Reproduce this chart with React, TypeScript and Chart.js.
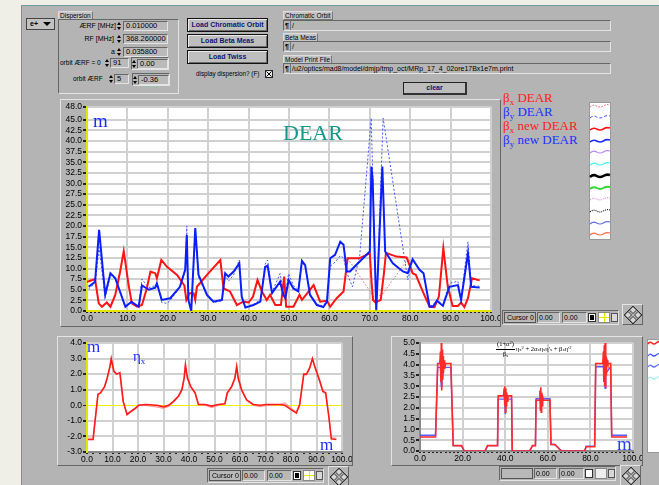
import React, { useEffect, useRef } from 'react';
import { Chart, registerables } from 'chart.js';

Chart.register(...registerables);

const SANS = '"Liberation Sans", Arial, sans-serif';
const SERIF = '"Liberation Serif", "Times New Roman", serif';
const GRAY = '#b4b4b4';

// ---------------- DATA ----------------
// Main graph: beta functions [s (m), beta (m)]
const BX_NEW: [number, number][] = [
  [0, 6.9], [2, 7.5], [2.9, 1.8], [3.7, 1.0], [4.9, 2.0], [5.8, 1.0], [7, 3.8], [8.2, 9.3], [9.1, 14.1], [10.3, 6.1],
  [11.1, 1.8], [12.4, 1.0], [13.6, 1.4], [14.8, 5.3], [15.7, 9.3], [16.9, 8.9], [17.3, 7.7], [18.4, 12.0], [19.8, 10.4],
  [22.3, 8.5], [24.1, 6.0], [24.6, 2.6], [25.4, 4.2], [26.4, 4.2], [26.8, 2.6], [27.2, 5.7], [29.7, 8.5], [33, 12.0],
  [33.8, 5.3], [35.4, 4.6], [37.1, 1.4], [38.7, 2.2], [40, 2.0], [41.1, 3.4], [42.2, 7.3], [43.3, 4.6], [44.5, 2.6],
  [45.3, 3.8], [46.6, 1.4], [48, 1.4], [48.8, 8.1], [49.3, 1.0], [51.1, 1.0], [52.6, 3.8], [53.2, 2.6], [54.2, 3.8],
  [56.1, 6.1], [57.7, 2.2], [59.4, 2.4], [60.2, 1.0], [61.8, 3.0], [63.5, 4.6], [64.5, 12.4], [67.4, 12.4], [70, 13.6],
  [70.4, 7.3], [70.8, 2.6], [71.4, 2.0], [72.7, 2.6], [73.5, 8.9], [74, 13.7], [76.6, 12.8], [79.1, 12.6], [80.6, 8.9],
  [81.4, 8.5], [83.1, 4.6], [84.8, 1.0], [86, 0.9], [87.1, 3.4], [88.2, 14.8], [89.3, 5.7], [90.5, 1.2], [91.8, 1.2],
  [92.6, 2.0], [93.4, 0.9], [94.3, 3.0], [95.3, 7.7], [97.2, 7.2],
];
const BY_NEW: [number, number][] = [
  [0.4, 5.7], [2, 6.9], [3, 19.1], [4.5, 3.9], [5.8, 8.9], [7, 7.7], [9.5, 1.0], [11, 2.2], [12.8, 1.0], [13.6, 6.0],
  [15.3, 5.0], [16.9, 5.5], [17.3, 6.5], [18.5, 2.6], [20.6, 3.0], [23, 5.7], [24.3, 9.7], [24.7, 17.9], [25.1, 2.6],
  [25.8, 0], [26.8, 19.5], [27.6, 8.5], [29.7, 3.8], [31.3, 2.2], [33.4, 2.6], [34.2, 8.9], [35, 8.1], [36.3, 9.3],
  [37.7, 11.2], [38.3, 3.4], [39.2, 0.8], [41.2, 1.4], [42.9, 2.2], [44.1, 10.4], [44.7, 10.7], [45.8, 4.2], [47.8, 6.9],
  [48.6, 3.8], [49.1, 3.0], [49.9, 7.3], [51.1, 5.3], [52.3, 4.6], [53.2, 11.8], [54, 10.8], [55.2, 3.8], [56.9, 1.4],
  [58.5, 0.9], [59.4, 2.2], [60.2, 12.4], [61.4, 13.2], [62.7, 16.3], [63.5, 15.6], [64.3, 9.3], [65.1, 9.3], [66.2, 10.4],
  [70, 14.0], [70.4, 34.0], [70.7, 31.0], [71.6, 0.2], [73.1, 34.0], [73.8, 14.0], [75.7, 11.2], [78.2, 9.3], [79.4, 8.9],
  [80.6, 12.2], [82.3, 9.7], [83.3, 8.9], [84.8, 1.0], [85.6, 1.0], [86.6, 2.4], [88.1, 1.2], [89.7, 5.7], [91.8, 6.1],
  [92.6, 2.6], [94.3, 13.6], [95.1, 5.7], [97.2, 5.5],
];
const BX_OLD: [number, number][] = [
  [0, 6.7], [2, 7.3], [2.9, 1.8], [3.7, 1.1], [4.9, 2.1], [5.8, 1.1], [7, 3.8], [8.2, 9.0], [9.1, 13.6], [10.3, 6.0],
  [11.1, 1.8], [12.4, 1.1], [13.6, 1.5], [14.8, 5.3], [15.7, 9.0], [16.9, 8.8], [17.3, 7.7], [18.4, 11.8], [19.8, 10.4],
  [22.3, 8.5], [24.1, 6.0], [24.6, 2.6], [25.4, 4.2], [26.4, 4.2], [26.8, 2.6], [27.2, 5.7], [29.7, 8.5], [33, 12.2],
  [33.8, 5.3], [35.4, 4.6], [37.1, 1.5], [38.7, 2.2], [40, 2.0], [41.1, 3.4], [42.2, 7.2], [43.3, 4.6], [44.5, 2.6],
  [45.3, 3.8], [46.6, 1.5], [48, 1.5], [48.8, 8.0], [49.3, 1.1], [51.1, 1.1], [52.6, 3.8], [53.2, 2.6], [54.2, 3.8],
  [56.1, 6.0], [57.7, 2.2], [59.4, 2.4], [60.2, 1.1], [61.8, 3.0], [63.5, 4.6], [64.5, 12.4], [71, 3.3], [73, 3.8],
  [79.6, 12.4], [80.6, 8.9], [81.4, 8.5], [83.1, 4.6], [84.8, 1.1], [86, 1.0], [87.1, 3.4], [88.2, 14.5], [89.3, 5.7],
  [90.5, 1.3], [91.8, 1.3], [92.6, 2.0], [93.4, 1.0], [94.3, 3.0], [95.3, 7.5], [97.2, 7.2],
];
const BY_OLD: [number, number][] = [
  [0.4, 5.2], [2, 6.5], [3, 15.0], [4.5, 3.0], [5.8, 8.5], [7, 7.5], [9.5, 1.2], [11, 2.0], [12.8, 1.2], [13.6, 7.5],
  [15.3, 5.5], [16.9, 6.0], [17.3, 6.5], [18.5, 2.0], [19.8, 1.8], [20.6, 2.5], [23, 5.5], [24.3, 9.5], [24.7, 20.0],
  [25.1, 2.6], [25.8, 0.3], [26.8, 19.0], [27.6, 8.0], [29.7, 3.5], [31.3, 2.0], [33.4, 2.4], [34.2, 8.5], [35, 7.0],
  [36.3, 8.5], [37.7, 12.0], [38.3, 3.0], [39.2, 1.0], [41.2, 1.6], [42.9, 2.6], [44.1, 11.0], [44.7, 12.0], [45.8, 4.5],
  [47.8, 8.8], [48.6, 4.5], [49.1, 3.5], [49.9, 8.8], [51.1, 6.0], [52.3, 5.0], [53.2, 11.5], [54, 10.5], [55.2, 4.0],
  [56.9, 1.6], [58.5, 1.2], [59.4, 2.5], [60.2, 10.5], [61.4, 11.5], [62.7, 13.0], [63.5, 12.5], [64.3, 9.0], [65.7, 5.7],
  [67.5, 13.0], [70.35, 45.4], [71.6, 0.5], [73.3, 45.4], [79.4, 7.3], [80.6, 12.0], [82.3, 9.8], [83.3, 9.0], [84.8, 1.3],
  [85.6, 1.3], [86.6, 2.6], [88.1, 1.5], [89.7, 6.5], [91.8, 7.0], [92.6, 3.0], [94.3, 16.3], [95.1, 6.0], [97.2, 5.8],
];
const MAIN_Y_TICKS = [0, 2.5, 5, 7.5, 10, 12.5, 15, 17.5, 20, 22.5, 25, 27.5, 30, 32.5, 35, 37.5, 40, 42.5, 45, 48];

// Bottom-left graph: horizontal dispersion eta_x [s, m]
const ETA_X: [number, number][] = [
  [0.4, -2.2], [2.4, -2.2], [3, -1.25], [4.3, 0.7], [5.3, 0.8], [6.9, 1.2], [7.9, 1.75], [9, 2.5], [9.5, 3.0], [10.5, 2.2],
  [11.6, 2.0], [12.9, 2.1], [14.2, 0.25], [15.7, -0.6], [17.7, -0.35], [19, -0.2], [20.3, 0], [22.9, 0.05], [27.4, 0],
  [30, -0.1], [32, 0], [33.9, 0.25], [35.9, 0.6], [37.2, 1.0], [38.1, 1.75], [38.6, 2.6], [39.4, 1.75], [40.7, 1.2],
  [42.4, 0.8], [43.7, 0.05], [46.3, 0.05], [48.9, -0.05], [51.5, 0.05], [54.1, 0.1], [55, 0.8], [56.7, 1.2], [58, 1.75],
  [58.7, 2.5], [59.3, 1.75], [60.6, 1.0], [62.6, 0.35], [65.2, 0.05], [67.8, 0], [70.4, 0.05], [75.6, 0.05], [77.6, 0],
  [80.2, -0.3], [82.1, -0.5], [83.4, 0.05], [85, 2.0], [86.1, 2.0], [87.3, 2.4], [88.4, 3.0], [89.3, 2.5], [91.2, 1.6],
  [92.5, 0.9], [93.6, 0.8], [94.9, -0.8], [95.8, -2.15], [97.8, -2.2],
];
const ETA_X_MEAS: [number, number][] = [
  [0.4, -2.1], [2.4, -2.1], [3, -1.2], [4.3, 0.75], [5.3, 0.8], [6.9, 1.2], [7.9, 1.7], [9, 2.45], [9.5, 2.95], [10.5, 2.2],
  [11.6, 2.0], [12.9, 2.05], [14.2, 0.2], [15.7, -0.55], [17.7, -0.3], [19, -0.15], [20.3, 0], [22.9, 0], [27.4, -0.1],
  [30, -0.2], [32, -0.08], [33.9, 0.2], [35.9, 0.55], [37.2, 0.95], [38.1, 1.7], [38.6, 2.5], [39.4, 1.7], [40.7, 1.15],
  [42.4, 0.75], [43.7, 0.05], [46.3, 0.0], [48.9, -0.15], [51.5, 0.0], [54.1, 0.1], [55, 0.75], [56.7, 1.15], [58, 1.7],
  [58.7, 2.4], [59.3, 1.7], [60.6, 0.95], [62.6, 0.3], [65.2, 0.0], [67.8, -0.08], [70.4, 0.0], [75.6, 0.05], [77.6, 0.15],
  [80.2, -0.2], [82.1, -0.45], [83.4, 0.05], [85, 1.95], [86.1, 1.95], [87.3, 2.35], [88.4, 2.95], [89.3, 2.45], [91.2, 1.55],
  [92.5, 0.85], [93.6, 0.75], [94.9, -0.8], [95.8, -2.1], [97.8, -2.1],
];

// Bottom-right graph: dispersion invariant H [s, m]
const H_RED: [number, number][] = [
  [0, 0.65], [7.3, 0.65], [8.3, 4.05], [9.3, 4.05], [9.6, 4.6], [9.8, 3.2], [10, 5.0], [10.2, 2.8], [10.4, 4.7], [10.6, 3.3],
  [10.8, 4.4], [11, 3.6], [11.3, 4.2], [11.6, 3.8], [12, 4.05], [14.5, 4.05], [15.6, 0.25], [19.5, 0.25], [20.8, 0],
  [30.5, 0], [31.7, 0.25], [36.4, 0.25], [36.7, 2.55], [39.2, 2.55], [39.5, 2.9], [39.7, 2.1], [39.9, 3.0], [40.1, 1.8],
  [40.3, 2.9], [40.5, 2.1], [40.7, 2.7], [41, 2.3], [41.3, 2.55], [43, 2.55], [43.3, 0], [51.5, 0], [52.8, 0.25],
  [54.2, 0.25], [54.5, 2.35], [56, 2.35], [56.3, 2.8], [56.5, 1.9], [56.7, 2.95], [56.9, 1.8], [57.1, 2.7], [57.3, 2.1],
  [57.6, 2.5], [58, 2.35], [61, 2.35], [61.5, 0.3], [63.3, 0.3], [66.4, 0], [77.3, 0], [78, 0.2], [82, 0.2], [82.5, 4.05],
  [85.8, 4.05], [86.1, 4.6], [86.3, 3.2], [86.5, 4.9], [86.7, 3.0], [86.9, 5.0], [87.1, 2.9], [87.3, 4.5], [87.5, 3.5],
  [87.8, 4.2], [88.2, 4.05], [89.5, 4.05], [90, 0.65], [97.2, 0.65],
];
const H_BLUE: [number, number][] = [
  [0, 0.73], [7.3, 0.73], [8.3, 3.87], [9.6, 3.87], [10, 3.0], [10.3, 3.6], [10.6, 3.3], [11, 3.87], [14.5, 3.87],
  [15.6, 0.25], [19.5, 0.25], [20.8, 0], [30.5, 0], [31.7, 0.25], [36.4, 0.25], [36.7, 2.4], [39.8, 2.4], [40.1, 1.7],
  [40.4, 2.4], [43, 2.4], [43.3, 0], [51.5, 0], [52.8, 0.25], [54.2, 0.25], [54.5, 2.42], [56.5, 2.42], [56.8, 1.9],
  [57.1, 2.42], [61, 2.42], [61.5, 0.3], [63.3, 0.3], [66.4, 0], [77.3, 0], [78, 0.22], [82, 0.22], [82.5, 3.9],
  [86.5, 3.9], [86.9, 2.9], [87.2, 3.6], [89.5, 3.9], [90, 0.73], [97.2, 0.73],
];

// ---------------- helpers ----------------
const toXY = (arr: [number, number][]) => arr.map(([x, y]) => ({ x, y }));
const isMult = (v: number, m: number) => Math.abs(v / m - Math.round(v / m)) < 1e-6;

const plotBg = {
  id: 'plotBg',
  beforeDraw(chart: any) {
    const { ctx, chartArea } = chart;
    ctx.save();
    ctx.fillStyle = '#ffffff';
    ctx.fillRect(chartArea.left, chartArea.top, chartArea.right - chartArea.left, chartArea.bottom - chartArea.top);
    ctx.restore();
  },
};

function xScale(step: number, labelEvery: number, gridEvery: number, height: number, borderColor: string) {
  return {
    type: 'linear',
    min: 0,
    max: 100,
    afterBuildTicks: (s: any) => {
      const t: any[] = [];
      for (let i = 0; i * step <= 100 + 1e-9; i++) t.push({ value: Math.round(i * step * 1000) / 1000 });
      s.ticks = t;
    },
    afterFit: (s: any) => {
      s.height = height;
      s.paddingLeft = 0;
      s.paddingRight = 0;
    },
    ticks: {
      autoSkip: false,
      maxRotation: 0,
      minRotation: 0,
      padding: 1,
      color: '#000',
      font: { family: SANS, size: 8.5 },
      callback: (v: number) => (isMult(v, labelEvery) ? v.toFixed(1) : ''),
    },
    grid: {
      color: (c: any) => (c.tick && isMult(c.tick.value, gridEvery) ? '#d0d0d0' : 'rgba(0,0,0,0)'),
      lineWidth: 2,
      tickColor: '#222',
      tickLength: 2,
    },
    border: { color: borderColor, width: 2 },
  };
}

function yScale(min: number, max: number, ticks: number[], width: number, borderColor: string, zeroColor?: string) {
  return {
    type: 'linear',
    min,
    max,
    afterBuildTicks: (s: any) => {
      s.ticks = ticks.map((v) => ({ value: v }));
    },
    afterFit: (s: any) => {
      s.width = width;
      s.paddingTop = 0;
      s.paddingBottom = 0;
    },
    ticks: {
      autoSkip: false,
      padding: 1,
      color: '#000',
      font: { family: SANS, size: 8.5 },
      callback: (v: number) => v.toFixed(1),
    },
    grid: {
      color: (c: any) => (zeroColor && c.tick && c.tick.value === 0 ? zeroColor : '#d0d0d0'),
      lineWidth: (c: any) => (zeroColor && c.tick && c.tick.value === 0 ? 1 : 2),
      tickColor: '#222',
      tickLength: 4,
    },
    border: { color: borderColor, width: 2 },
  };
}

function lineDs(label: string, data: [number, number][], color: string, width: number, dash: number[] = []) {
  return {
    label,
    data: toXY(data),
    borderColor: color,
    backgroundColor: color,
    borderWidth: width,
    borderDash: dash,
    pointRadius: 0,
    tension: 0,
    fill: false,
  };
}

function baseOptions(padding: any, scales: any) {
  return {
    responsive: false,
    animation: false,
    events: [],
    layout: { padding },
    plugins: { legend: { display: false }, tooltip: { enabled: false }, title: { display: false } },
    scales,
  };
}

function ChartCanvas({ l, t, w, h, make }: { l: number; t: number; w: number; h: number; make: () => any }) {
  const ref = useRef<HTMLCanvasElement>(null);
  useEffect(() => {
    const chart = new Chart(ref.current as HTMLCanvasElement, make());
    return () => chart.destroy();
  }, []);
  return <canvas ref={ref} width={w} height={h} style={{ position: 'absolute', left: l, top: t, width: w, height: h }} />;
}

const box = (l: number, t: number, w: number, h: number, s: React.CSSProperties = {}): React.CSSProperties => ({
  position: 'absolute',
  left: l,
  top: t,
  width: w,
  height: h,
  boxSizing: 'border-box',
  ...s,
});
const inset: React.CSSProperties = {
  borderTop: '1px solid #666',
  borderLeft: '1px solid #666',
  borderBottom: '1px solid #e4e4e4',
  borderRight: '1px solid #e4e4e4',
};
const raised: React.CSSProperties = {
  borderTop: '1px solid #e4e4e4',
  borderLeft: '1px solid #e4e4e4',
  borderBottom: '1px solid #666',
  borderRight: '1px solid #666',
};

function Txt({ l, t, text, size = 7, color = '#000', right }: { l: number; t: number; text: string; size?: number; color?: string; right?: boolean }) {
  const s: React.CSSProperties = { position: 'absolute', top: t, font: `${size}px ${SANS}`, lineHeight: 1, color, whiteSpace: 'nowrap' };
  if (right) s.right = 659 - l;
  else s.left = l;
  return <div style={s}>{text}</div>;
}

function Field({ l, t, w, h = 10, text }: { l: number; t: number; w: number; h?: number; text: string }) {
  return (
    <div style={box(l, t, w, h, { ...inset, background: '#bababa', font: `7.5px ${SANS}`, lineHeight: `${h - 2}px`, paddingLeft: 2, whiteSpace: 'nowrap', overflow: 'hidden' })}>
      {text}
    </div>
  );
}

function Spin({ l, t }: { l: number; t: number }) {
  return (
    <div style={box(l, t, 5, 10)}>
      <div style={{ position: 'absolute', left: 0, top: 1, width: 0, height: 0, borderLeft: '2.5px solid transparent', borderRight: '2.5px solid transparent', borderBottom: '3px solid #000' }} />
      <div style={{ position: 'absolute', left: 0, top: 6, width: 0, height: 0, borderLeft: '2.5px solid transparent', borderRight: '2.5px solid transparent', borderTop: '3px solid #000' }} />
    </div>
  );
}

function Btn({ l, t, w, h, text }: { l: number; t: number; w: number; h: number; text: string }) {
  return (
    <div style={box(l, t, w, h, { border: '1px solid #111', background: '#bebebe', boxShadow: 'inset 1px 1px 0 #eaeaea, inset -1px -1px 0 #6a6a6a', font: `bold 7px ${SANS}`, color: '#14146e', textAlign: 'center', lineHeight: `${h - 2}px`, whiteSpace: 'nowrap' })}>
      {text}
    </div>
  );
}

function Tag({ l, t, text }: { l: number; t: number; text: string }) {
  return (
    <div style={{ position: 'absolute', left: l, top: t, height: 9, boxSizing: 'border-box', background: '#c4c4c4', borderRight: '1px solid #777', borderBottom: '1px solid #777', borderTop: '1px solid #ddd', borderLeft: '1px solid #ddd', font: `6.5px ${SANS}`, lineHeight: '7px', padding: '0 1px', whiteSpace: 'nowrap' }}>
      {text}
    </div>
  );
}

function PathField({ l, t, w, text }: { l: number; t: number; w: number; text: string }) {
  return (
    <div style={box(l, t, w, 11, { ...inset, background: '#b6b6b6', font: `7px ${SANS}`, lineHeight: '9px', whiteSpace: 'nowrap', overflow: 'hidden' })}>
      <span style={{ display: 'inline-block', width: 6, textAlign: 'center', borderRight: '1px solid #777', fontWeight: 'bold' }}>¶</span>
      <span style={{ paddingLeft: 1 }}>{text}</span>
    </div>
  );
}

function CursorBar({ l, t, label, v1, v2, plain }: { l: number; t: number; label: string; v1: string; v2: string; plain?: boolean }) {
  const f = `7px ${SANS}`;
  return (
    <>
      <div style={box(l, t, 117, 15, { ...inset })} />
      <div style={box(l + 2, t + 2, 32, 11, { border: '1px solid #555', background: '#b8b8b8', font: f, lineHeight: '9px', paddingLeft: 2, whiteSpace: 'nowrap', overflow: 'hidden' })}>{label}</div>
      <div style={box(l + 35, t + 2, 23, 11, { ...inset, background: '#b8b8b8', font: f, lineHeight: '9px', paddingLeft: 1 })}>{v1}</div>
      <div style={box(l + 60, t + 2, 25, 11, { ...inset, background: '#b8b8b8', font: f, lineHeight: '9px', paddingLeft: 1 })}>{v2}</div>
      <div style={box(l + 86, t + 3, 8, 9, { border: '1px solid #333', background: '#fff' })}>
        {!plain && <div style={box(1, 1, 4, 5, { background: '#000' })} />}
      </div>
      <div style={box(l + 96, t + 2, 12, 11, { border: '1px solid #888', background: plain ? '#eeeeee' : '#fffff4' })}>
        {!plain && (
          <>
            <div style={box(5, 0, 1, 9, { background: '#e8e800' })} />
            <div style={box(0, 4, 10, 1, { background: '#e8e800' })} />
          </>
        )}
      </div>
      <div style={box(l + 109, t + 3, 7, 9, { border: '1px solid #555', background: '#d8d8d8' })} />
    </>
  );
}

function Nav({ l, t }: { l: number; t: number }) {
  const pts = [[10, 5], [5, 10], [15, 10], [10, 15]];
  return (
    <div style={box(l, t, 21, 21, { ...raised })}>
      <svg width={19} height={19} style={{ position: 'absolute', left: 0, top: 0 }}>
        <polygon points="10,1 19,10 10,19 1,10" fill="none" stroke="#333" strokeWidth={1} />
        {pts.map(([cx, cy], i) => (
          <polygon key={i} points={`${cx},${cy - 3.5} ${cx + 3.5},${cy} ${cx},${cy + 3.5} ${cx - 3.5},${cy}`} fill="#d6d6d6" stroke="#111" strokeWidth={0.8} />
        ))}
      </svg>
    </div>
  );
}

type Sample = { y: number; color: string; width: number; dash?: string };
function LegendStrip({ l, t, w, h, items }: { l: number; t: number; w: number; h: number; items: Sample[] }) {
  return (
    <svg width={w} height={h} style={{ position: 'absolute', left: l, top: t }}>
      <rect x={0.5} y={0.5} width={w - 1} height={h - 1} fill="#fff" stroke="#999" />
      {items.map((it, i) => (
        <path
          key={i}
          d={`M1 ${it.y + 1} Q ${w * 0.2} ${it.y - 2} ${w * 0.35} ${it.y} T ${w * 0.65} ${it.y} T ${w - 1} ${it.y - 1}`}
          fill="none"
          stroke={it.color}
          strokeWidth={it.width}
          strokeDasharray={it.dash}
        />
      ))}
    </svg>
  );
}

function Beta({ t, sub, rest, color }: { t: number; sub: string; rest: string; color: string }) {
  return (
    <div style={{ position: 'absolute', left: 503, top: t, font: `13px ${SERIF}`, lineHeight: 1, color, whiteSpace: 'nowrap' }}>
      β<span style={{ fontSize: 9, position: 'relative', top: 3 }}>{sub}</span> {rest}
    </div>
  );
}

// ---------------- chart builders ----------------
const makeMain = () => ({
  type: 'line',
  data: {
    datasets: [
      lineDs('βy new DEAR', BY_NEW, '#0a1eff', 2),
      lineDs('βx new DEAR', BX_NEW, '#ff1414', 2),
      lineDs('βy DEAR', BY_OLD, '#4455ff', 1, [2, 2]),
      lineDs('βx DEAR', BX_OLD, '#ff6060', 1, [1.5, 2]),
    ],
  },
  options: baseOptions(
    { top: 7, right: 9, left: 0, bottom: 0 },
    {
      x: xScale(1, 10, 10, 15, '#e6e600'),
      y: yScale(0, 48, MAIN_Y_TICKS, 27, '#e6e600'),
    }
  ),
  plugins: [plotBg],
});

const makeEta = () => ({
  type: 'line',
  data: {
    datasets: [
      lineDs('ηx', ETA_X, '#ff1a1a', 1.6),
      lineDs('ηx meas', ETA_X_MEAS, '#ff9a9a', 1.2),
    ],
  },
  options: baseOptions(
    { top: 6, right: 10, left: 0, bottom: 0 },
    {
      x: xScale(2.5, 10, 10, 13, '#8a8a8a'),
      y: yScale(-3, 4, [-3, -2, -1, 0, 1, 2, 3, 4], 29, '#e6e600', '#f0f000'),
    }
  ),
  plugins: [plotBg],
});

const makeH = () => ({
  type: 'line',
  data: {
    datasets: [
      lineDs('H', H_RED, '#ff2a2a', 1.6),
      lineDs('H ref', H_BLUE, '#5a5aff', 1.4),
    ],
  },
  options: baseOptions(
    { top: 6, right: 9, left: 0, bottom: 0 },
    {
      x: xScale(2, 20, 20, 14, '#8a8a8a'),
      y: yScale(0, 5, [0, 0.5, 1, 1.5, 2, 2.5, 3, 3.5, 4, 4.5, 5], 28, '#8a8a8a'),
    }
  ),
  plugins: [plotBg],
});

const MAIN_LEGEND: Sample[] = [
  { y: 4, color: '#ff5050', width: 1, dash: '1.5 1.5' },
  { y: 15, color: '#4050ff', width: 1, dash: '3 2' },
  { y: 27, color: '#ff1414', width: 1.6 },
  { y: 39, color: '#1a2aff', width: 1.6 },
  { y: 50, color: '#b888ff', width: 1.2 },
  { y: 62, color: '#40f0f0', width: 1.2 },
  { y: 74, color: '#000000', width: 2.6 },
  { y: 86, color: '#30d830', width: 2 },
  { y: 97, color: '#e890f0', width: 1.2, dash: '1 1' },
  { y: 109, color: '#222222', width: 1.2, dash: '1 1' },
  { y: 121, color: '#6070e0', width: 1.2 },
  { y: 132, color: '#ff6840', width: 1.2 },
];
const H_LEGEND: Sample[] = [
  { y: 4, color: '#ff2020', width: 1.6 },
  { y: 16, color: '#4050ff', width: 1.2 },
  { y: 27, color: '#6070ff', width: 1.2 },
  { y: 39, color: '#a8f0f0', width: 1.2 },
];

export default function App() {
  return (
    <div style={{ position: 'fixed', left: 0, top: 0, width: 659, height: 485, background: GRAY, overflow: 'hidden', fontFamily: SANS }}>
      {/* window edges */}
      <div style={box(0, 0, 659, 5, { background: '#efefe8' })} />
      <div style={box(0, 0, 21, 485, { background: '#efefe8' })} />
      <div style={box(21, 5, 638, 1, { background: '#6a9c9c' })} />
      <div style={box(21, 5, 1, 480, { background: '#8a8a8a' })} />

      {/* particle selector */}
      <div style={box(26, 18, 29, 12, { border: '1px solid #444', background: '#c2c2c2', font: `bold 7px ${SANS}`, lineHeight: '10px', paddingLeft: 3 })}>
        e+
        <div style={{ position: 'absolute', right: 3, top: 3, width: 0, height: 0, borderLeft: '4px solid transparent', borderRight: '4px solid transparent', borderTop: '4px solid #000' }} />
      </div>

      {/* Dispersion cluster */}
      <Tag l={58} t={11} text="Dispersion" />
      <div style={box(58, 19, 121, 75, { ...inset })} />
      <Txt l={116} t={22} text="ÆRF [MHz]" right />
      <Spin l={117} t={21} />
      <Field l={123} t={21} w={45} text="0.010000" />
      <Txt l={114} t={35} text="RF [MHz]" right />
      <Spin l={117} t={34} />
      <Field l={123} t={34} w={45} text="368.260000" />
      <Txt l={115} t={48} text="a" right />
      <Spin l={117} t={47} />
      <Field l={123} t={47} w={45} text="0.035800" />
      <Txt l={60} t={59.5} text="orbit  ÆRF = 0" size={6.5} />
      <Spin l={105} t={58} />
      <Field l={110} t={58} w={19} text="91" />
      <div style={box(131, 57, 38, 13, { ...inset })} />
      <Spin l={132} t={58.5} />
      <Field l={137} t={59} w={31} text="0.00" />
      <Txt l={73} t={75.5} text="orbit  ÆRF" size={6.5} />
      <Spin l={109} t={74} />
      <Field l={114} t={74} w={15} text="5" />
      <div style={box(132, 73, 38, 13, { ...inset })} />
      <Spin l={133} t={74.5} />
      <Field l={138} t={75} w={31} text="-0.36" />

      {/* Buttons */}
      <Btn l={187} t={18} w={81} h={14} text="Load Chromatic Orbit" />
      <Btn l={187} t={34} w={81} h={14} text="Load Beta Meas" />
      <Btn l={187} t={50} w={81} h={14} text="Load Twiss" />
      <Txt l={196} t={71} text="display dispersion? (F)" size={6.3} />
      <div style={box(265, 70, 8, 8, { border: '1px solid #222', background: '#e8e8e8' })}>
        <svg width={6} height={6} style={{ position: 'absolute', left: 0, top: 0 }}>
          <line x1={0.5} y1={0.5} x2={5.5} y2={5.5} stroke="#000" strokeWidth={1} />
          <line x1={5.5} y1={0.5} x2={0.5} y2={5.5} stroke="#000" strokeWidth={1} />
        </svg>
      </div>

      {/* file paths */}
      <Tag l={283} t={11} text="Chromatic Orbit" />
      <PathField l={283} t={20} w={328} text="/" />
      <Tag l={283} t={33} text="Beta Meas" />
      <PathField l={283} t={41} w={328} text="/" />
      <Tag l={283} t={55} text="Model Print File" />
      <PathField l={283} t={63} w={328} text="/u2/optics/mad8/model/dmjp/tmp_oct/MRp_17_4_02ore17Bx1e7m.print" />
      <div style={box(403, 82, 64, 13, { border: '1px solid #222', borderRight: '2px solid #333', borderBottom: '2px solid #333', background: '#bdbdbd', font: `bold 7px ${SANS}`, color: '#14146e', textAlign: 'center', lineHeight: '10px' })}>clear</div>

      {/* Main graph */}
      <div style={box(60, 99, 441, 228, { ...raised })} />
      <ChartCanvas l={60} t={100} w={440} h={226} make={makeMain} />
      <div style={{ position: 'absolute', left: 93, top: 111, font: `19px ${SERIF}`, lineHeight: 1, color: '#1a2cff' }}>m</div>
      <div style={{ position: 'absolute', left: 283, top: 122, font: `22px ${SERIF}`, lineHeight: 1, color: '#14988c' }}>DEAR</div>

      {/* main legend */}
      <Beta t={91} sub="x" rest="DEAR" color="#ff2020" />
      <Beta t={105} sub="y" rest="DEAR" color="#2030ff" />
      <Beta t={119} sub="x" rest="new DEAR" color="#ff2020" />
      <Beta t={133} sub="y" rest="new DEAR" color="#2030ff" />
      <LegendStrip l={589} t={102} w={22} h={138} items={MAIN_LEGEND} />
      <CursorBar l={502} t={310} label="Cursor 0" v1="0.00" v2="0.00" />
      <Nav l={622} t={304} />

      {/* Bottom-left graph: eta_x */}
      <div style={box(57, 336, 296, 130, { ...raised })} />
      <ChartCanvas l={58} t={337} w={294} h={128} make={makeEta} />
      <div style={{ position: 'absolute', left: 87, top: 338, font: `17px ${SERIF}`, lineHeight: 1, color: '#1a2cff' }}>m</div>
      <div style={{ position: 'absolute', left: 133, top: 349, font: `15px ${SERIF}`, lineHeight: 1, color: '#1a2cff', whiteSpace: 'nowrap' }}>
        η<span style={{ fontSize: 9, position: 'relative', top: 3 }}>x</span>
      </div>
      <div style={{ position: 'absolute', left: 320, top: 436, font: `17px ${SERIF}`, lineHeight: 1, color: '#1a2cff' }}>m</div>
      <CursorBar l={207} t={468} label="Cursor 0" v1="0.00" v2="0.00" />
      <Nav l={328} t={466} />

      {/* Bottom-right graph: H */}
      <div style={box(391, 336, 252, 130, { ...raised })} />
      <ChartCanvas l={392} t={337} w={250} h={128} make={makeH} />
      <div style={{ position: 'absolute', left: 496, top: 341, font: `6.5px ${SERIF}`, lineHeight: 1, color: '#000', whiteSpace: 'nowrap', display: 'flex', alignItems: 'center' }}>
        <span style={{ display: 'inline-flex', flexDirection: 'column', alignItems: 'center', marginRight: 1 }}>
          <span style={{ borderBottom: '0.8px solid #000', padding: '0 1px 1px 1px' }}>
            (1+α<span style={{ fontSize: 4.5, position: 'relative', top: -2 }}>2</span>)
          </span>
          <span style={{ paddingTop: 1 }}>
            β<span style={{ fontSize: 4.5, position: 'relative', top: 1 }}>x</span>
          </span>
        </span>
        <span>
          η<span style={{ fontSize: 4.5 }}>x</span>
          <span style={{ fontSize: 4.5, position: 'relative', top: -2 }}>2</span> + 2α<span style={{ fontSize: 4.5 }}>x</span>η
          <span style={{ fontSize: 4.5 }}>x</span>η'<span style={{ fontSize: 4.5 }}>x</span> + β<span style={{ fontSize: 4.5 }}>x</span>η'
          <span style={{ fontSize: 4.5, position: 'relative', top: -2 }}>2</span>
        </span>
      </div>
      <div style={{ position: 'absolute', left: 617, top: 434, font: `19px ${SERIF}`, lineHeight: 1, color: '#2a3cff' }}>m</div>
      <LegendStrip l={647} t={339} w={14} h={114} items={H_LEGEND} />
      <CursorBar l={499} t={466} label="" v1="0.00" v2="0.00" plain />
      <Nav l={620} t={465} />
    </div>
  );
}
